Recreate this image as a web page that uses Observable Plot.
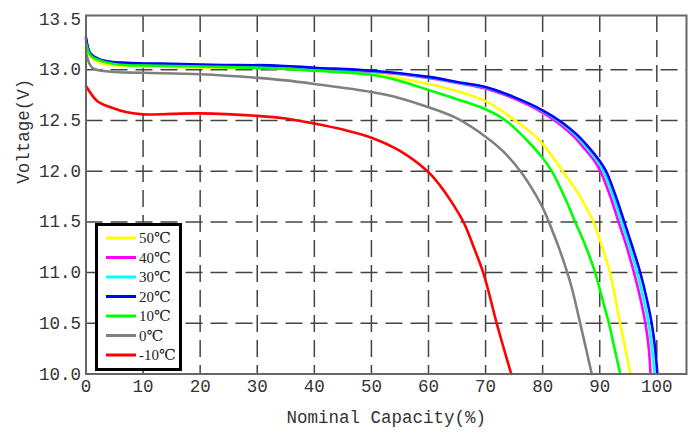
<!DOCTYPE html>
<html>
<head>
<meta charset="utf-8">
<script src="https://cdn.jsdelivr.net/npm/d3@7"></script>
<script src="https://cdn.jsdelivr.net/npm/@observablehq/plot@0.6"></script>
<style>
  html, body { margin: 0; padding: 0; background: #fff; }
  #chart { width: 695px; height: 439px; }
</style>
</head>
<body>
<div id="chart"></div>
<script>
// Series labels and colours (legend order)
const seriesNames = ["50℃", "40℃", "30℃", "20℃", "10℃", "0℃", "-10℃"];
const seriesColors = ["#ffff00", "#ff00ff", "#00ffff", "#0000ff", "#00ff00", "#808080", "#ff0000"];

// Nominal capacity (%) / voltage (V)
const cap50 = [0, 1, 2.5, 6, 13, 25, 34, 40, 50, 60, 65, 70, 75.2, 78, 80, 83.5, 86, 88.9, 90.5, 91.8, 93.5, 95.4];
const volt50 = [13.22, 13.12, 13.07, 13.04, 13.03, 13.02, 13.02, 13.0, 12.96, 12.86, 12.79, 12.69, 12.5, 12.38, 12.27, 12.0, 11.8, 11.5, 11.24, 11.0, 10.52, 10.0];

const cap40 = [0, 0.8, 2.5, 6, 13, 22, 34, 40, 50, 60, 65, 70, 74.8, 79.6, 82.8, 85.3, 87.2, 89.2, 90.2, 91.8, 93.3, 94.8, 96.0, 97.1, 98.0, 98.6, 98.9];
const volt40 = [13.3, 13.15, 13.09, 13.06, 13.05, 13.04, 13.03, 13.01, 12.98, 12.92, 12.87, 12.815, 12.72, 12.59, 12.47, 12.35, 12.23, 12.09, 11.99, 11.76, 11.5, 11.24, 11.0, 10.75, 10.5, 10.25, 10.0];

const cap30 = [0, 0.8, 2.5, 6, 13, 22, 34, 40, 50, 60, 65, 70, 74.9, 79.8, 83.1, 85.65, 87.6, 89.6, 90.65, 92.25, 93.8, 95.3, 96.55, 97.65, 98.55, 99.15, 99.6];
const volt30 = [13.3, 13.15, 13.1, 13.07, 13.055, 13.045, 13.035, 13.015, 12.985, 12.925, 12.875, 12.825, 12.73, 12.6, 12.48, 12.36, 12.24, 12.1, 12.0, 11.77, 11.5, 11.24, 11.0, 10.75, 10.5, 10.25, 10.0];

const cap20 = [0, 0.8, 2.5, 6, 13, 22, 34, 40, 50, 60, 65, 70, 75, 80, 83.4, 86, 88, 90, 91.1, 92.7, 94.3, 95.8, 97.1, 98.2, 99.1, 99.7, 100.1];
const volt20 = [13.32, 13.16, 13.1, 13.07, 13.06, 13.05, 13.04, 13.02, 12.99, 12.93, 12.88, 12.83, 12.73, 12.6, 12.48, 12.36, 12.24, 12.1, 12.0, 11.77, 11.5, 11.24, 11.0, 10.75, 10.5, 10.25, 10.0];

const cap10 = [0, 0.8, 2.5, 6, 13, 22, 34, 40, 50, 55, 60, 65, 70, 73.5, 77, 80, 81.6, 83.8, 85.7, 87.6, 89.2, 90.4, 91.6, 92.6, 93.6];
const volt10 = [13.27, 13.14, 13.09, 13.05, 13.04, 13.03, 13.01, 12.99, 12.95, 12.89, 12.8, 12.71, 12.61, 12.5, 12.32, 12.13, 12.0, 11.75, 11.5, 11.25, 11.0, 10.75, 10.5, 10.25, 10.0];

const cap0 = [0, 1.1, 4.3, 10, 20, 30, 35, 40, 50, 55, 60, 65, 70, 73, 76.1, 78, 80, 82, 83.5, 85, 86.7, 88.6];
const volt0 = [13.17, 13.02, 12.98, 12.97, 12.955, 12.92, 12.895, 12.86, 12.78, 12.72, 12.63, 12.52, 12.34, 12.2, 12.0, 11.84, 11.64, 11.37, 11.14, 10.87, 10.47, 10.0];

const capM10 = [0, 2, 4.3, 7.2, 10, 15, 20, 30, 35, 40, 45, 50, 55, 60, 62, 64, 66.2, 68, 69.7, 72, 74.5];
const voltM10 = [12.84, 12.69, 12.63, 12.58, 12.56, 12.565, 12.57, 12.545, 12.52, 12.47, 12.41, 12.33, 12.2, 11.99, 11.86, 11.7, 11.49, 11.24, 10.98, 10.49, 10.0];

// Axis ticks
const xTicks = [0, 10, 20, 30, 40, 50, 60, 70, 80, 90, 100];
const yTicks = [10.0, 10.5, 11.0, 11.5, 12.0, 12.5, 13.0, 13.5];
const xGrid = [10, 20, 30, 40, 50, 60, 70, 80, 90, 100];
const yGrid = [10.5, 11.0, 11.5, 12.0, 12.5, 13.0];

const caps = [cap50, cap40, cap30, cap20, cap10, cap0, capM10];
const volts = [volt50, volt40, volt30, volt20, volt10, volt0, voltM10];
const rows = [];
seriesNames.forEach((name, i) => {
  caps[i].forEach((c, j) => rows.push({series: name, capacity: c, voltage: volts[i][j]}));
});

const font = "'Liberation Mono', 'DejaVu Sans Mono', monospace";

const lineMarks = seriesNames.map((name, i) =>
  Plot.line(rows.filter(d => d.series === name), {
    x: "capacity", y: "voltage", stroke: seriesColors[i],
    strokeWidth: 2.6, curve: "catmull-rom"
  })
);

const svg = Plot.plot({
  width: 695,
  height: 439,
  marginLeft: 85.5,
  marginRight: 9,
  marginTop: 15,
  marginBottom: 65.5,
  style: {fontFamily: font, fontSize: "17.5px", color: "#333", background: "#fff"},
  x: {domain: [0, 105.2]},
  y: {domain: [10, 13.535]},
  marks: [
    Plot.gridX(xGrid, {stroke: "#444", strokeOpacity: 1, strokeWidth: 1.5, strokeDasharray: "17,8"}),
    Plot.gridY(yGrid, {stroke: "#444", strokeOpacity: 1, strokeWidth: 1.5, strokeDasharray: "17,8"}),
    ...lineMarks,
    Plot.frame({stroke: "#666", strokeWidth: 2}),
    Plot.axisX(xTicks, {tickSize: 0, tickPadding: 6, label: null, fontSize: 17.5, fill: "#333"}),
    Plot.axisY(yTicks, {tickSize: 0, tickPadding: 5, label: null, tickFormat: d3.format(".1f"), fontSize: 17.5, fill: "#333"}),
    Plot.text(["Nominal Capacity(%)"], {text: d => d, frameAnchor: "bottom", dy: 49, fontSize: 17.5, fill: "#333"}),
    Plot.text(["Voltage(V)"], {text: d => d, frameAnchor: "left", dx: -63, dy: -11, rotate: -90, fontSize: 17.5, fill: "#333"})
  ]
});

// In-plot legend
const sel = d3.select(svg);
const lg = sel.append("g").attr("class", "legend").attr("text-anchor", "start");
lg.append("rect").attr("x", 96.5).attr("y", 224.5).attr("width", 84).attr("height", 145)
  .attr("fill", "#fff").attr("stroke", "#000").attr("stroke-width", 3);
seriesNames.forEach((name, i) => {
  const yy = 238 + i * 19.5;
  lg.append("line").attr("x1", 106).attr("x2", 136).attr("y1", yy).attr("y2", yy)
    .attr("stroke", seriesColors[i]).attr("stroke-width", 3);
  lg.append("text").attr("x", 139).attr("y", yy).attr("dy", "0.35em")
    .attr("text-anchor", "start")
    .attr("font-family", "'Liberation Serif', 'DejaVu Serif', serif").attr("font-size", 15)
    .attr("fill", "#222").text(name);
});

document.getElementById("chart").appendChild(svg);
</script>
</body>
</html>
